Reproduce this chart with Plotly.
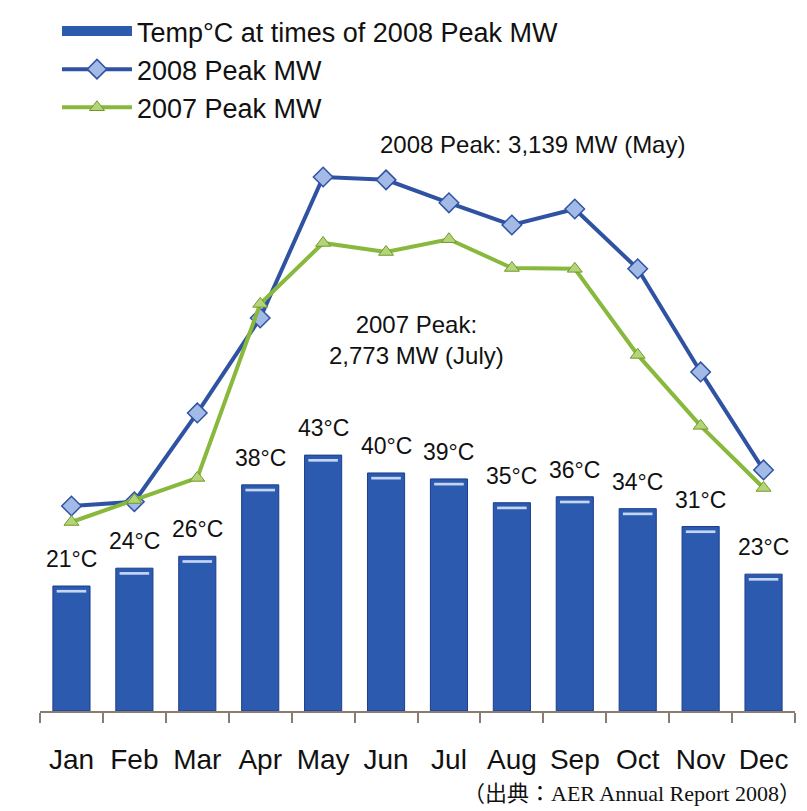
import plotly.graph_objects as go

# --- data -------------------------------------------------------------
months = ["Jan", "Feb", "Mar", "Apr", "May", "Jun",
          "Jul", "Aug", "Sep", "Oct", "Nov", "Dec"]
temp_2008 = [21, 24, 26, 38, 43, 40, 39, 35, 36, 34, 31, 23]           # °C at time of peak
peak_2008 = [1205, 1230, 1752, 2310, 3139, 3122, 2987, 2857, 2951, 2599, 1993, 1417]  # MW
peak_2007 = [1111, 1240, 1370, 2393, 2751, 2698, 2773, 2604, 2599, 2093, 1676, 1311]  # MW

temp_labels = [f"{t}°C" for t in temp_2008]

BAR_BLUE = "#2b5aaf"
BAR_EDGE = "#1c3d8c"
LINE_BLUE = "#2f53a2"
LINE_GREEN = "#88b83c"
FONT = "Liberation Sans, Arial, sans-serif"

fig = go.Figure()

# temperature bars
fig.add_trace(go.Bar(
    x=months, y=temp_2008, width=0.59,
    marker=dict(color=BAR_BLUE, line=dict(color=BAR_EDGE, width=1)),
    name="Temp°C at times of 2008 Peak MW",
    showlegend=False, hoverinfo="x+y",
))
# glossy highlight strip just under each bar top
fig.add_trace(go.Bar(
    x=months, y=[0.45] * len(months), base=[t - 1.1 for t in temp_2008],
    width=0.47, marker=dict(color="rgba(225,235,255,0.85)", line=dict(width=0)),
    showlegend=False, hoverinfo="skip",
))
# wide swatch for the bar series in the legend
fig.add_trace(go.Scatter(
    x=[None], y=[None], mode="lines",
    line=dict(color=BAR_BLUE, width=20),
    name="Temp°C at times of 2008 Peak MW",
))

fig.add_trace(go.Scatter(
    x=months, y=peak_2008, yaxis="y2", mode="lines+markers",
    name="2008 Peak MW",
    line=dict(color=LINE_BLUE, width=4),
    marker=dict(symbol="diamond", size=15, color="#a3bae6",
                line=dict(color=LINE_BLUE, width=1.5)),
))
fig.add_trace(go.Scatter(
    x=months, y=peak_2007, yaxis="y2", mode="lines+markers",
    name="2007 Peak MW",
    line=dict(color=LINE_GREEN, width=4),
    marker=dict(symbol="triangle-up", size=13, color="#b5d47a",
                line=dict(color="#6f9a2a", width=1)),
))

annotations = []
for i, (m, t) in enumerate(zip(months, temp_2008)):
    annotations.append(dict(
        x=m, y=t, xref="x", yref="y", text=temp_labels[i],
        showarrow=False, yanchor="bottom", yshift=12,
        font=dict(family=FONT, size=23, color="#111111"),
    ))

i08 = peak_2008.index(max(peak_2008))
i07 = peak_2007.index(max(peak_2007))
annotations.append(dict(
    x=7.33, y=peak_2008[i08], xref="x", yref="y2",
    text=f"2008 Peak: {peak_2008[i08]:,} MW ({months[i08]})",
    showarrow=False, yshift=32,
    font=dict(family=FONT, size=24, color="#111111"),
))
annotations.append(dict(
    x=5.48, y=peak_2007[i07], xref="x", yref="y2",
    text=f"2007 Peak:<br>{peak_2007[i07]:,} MW (July)",
    showarrow=False, yshift=-101,
    font=dict(family=FONT, size=24, color="#111111"),
))
annotations.append(dict(
    x=1.0106, y=-0.1378, xref="paper", yref="paper",
    xanchor="right", yanchor="bottom",
    text="（出典：AER Annual Report 2008）", showarrow=False,
    font=dict(family="Liberation Serif, Noto Sans CJK JP, serif", size=22, color="#111111"),
))

fig.update_layout(
    width=807, height=811,
    margin=dict(l=40, r=12, t=7, b=100),
    paper_bgcolor="white", plot_bgcolor="white",
    barmode="overlay",
    showlegend=True,
    legend=dict(
        x=0.0225, xanchor="left", y=1.0, yanchor="top",
        bgcolor="rgba(0,0,0,0)", itemwidth=70, tracegroupgap=0,
        font=dict(family=FONT, size=27, color="#111111"),
    ),
    xaxis=dict(
        type="category", range=[-0.5, len(months) - 0.5],
        showline=True, linecolor="#8a7d70", linewidth=2,
        ticks="outside", ticklen=10, tickwidth=2, tickcolor="#8a7d70",
        tickson="boundaries", showgrid=False, zeroline=False, tickangle=0,
        tickfont=dict(family=FONT, size=28, color="#111111"),
        ticklabelstandoff=22,
    ),
    yaxis=dict(range=[0, 118.3], visible=False, showgrid=False, zeroline=False),
    yaxis2=dict(range=[0, 4138], overlaying="y", side="right", visible=False,
                showgrid=False, zeroline=False),
    annotations=annotations,
)

fig.write_html("out.html")
